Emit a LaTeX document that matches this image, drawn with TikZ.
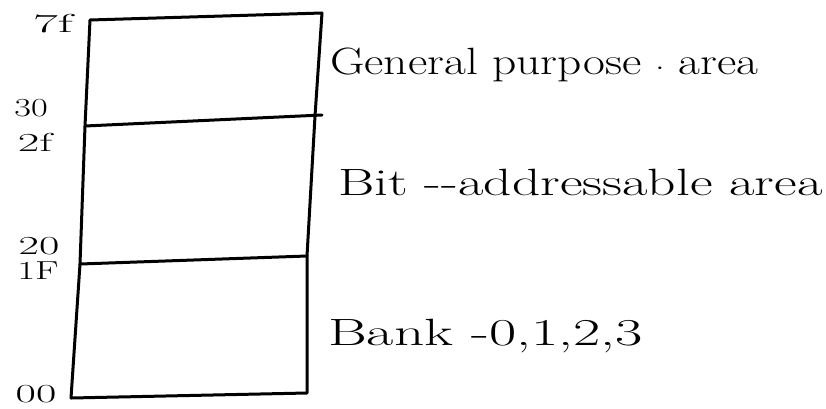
\documentclass[tikz,border=0pt]{standalone}
\usepackage{graphicx}
\begin{document}
\begin{tikzpicture}[x=1pt,y=-1pt,
  wall/.style={line width=3pt,line cap=round,line join=round},
  addr/.style={font=\fontsize{26}{28}\selectfont,inner sep=0pt},
  area/.style={font=\fontsize{38}{40}\selectfont,inner sep=0pt,anchor=base west}]
\useasboundingbox (0,0) rectangle (826,408);
% corners of the memory column and the two partitions
\coordinate (tl) at (90,20);
\coordinate (tr) at (322,13);
\coordinate (ml2) at (85,126);
\coordinate (mr2) at (315,116);
\coordinate (mx2) at (322,115);
\coordinate (ml1) at (80,264);
\coordinate (mr1) at (307,256);
\coordinate (bl) at (71,398);
\coordinate (br) at (307,393);
\draw[wall] (tl) -- (tr) -- (mr2) -- (mr1) -- (br) -- (bl) -- (ml1) -- (ml2) -- cycle;
\draw[wall] (ml2) -- (mx2);
\draw[wall] (ml1) -- (mr1);
% address labels
\node[addr] (a7f) at (53,24) {\scalebox{2.1}[1]{7f}};
\node[addr] (a30) at (31,108) {\scalebox{1.4}[1]{30}};
\node[addr] (a2f) at (35,142) {\scalebox{1.8}[1]{2f}};
\node[addr] (a20) at (39,246) {\scalebox{1.7}[1]{20}};
\node[addr] (a1f) at (38,271) {\scalebox{1.5}[1]{1F}};
\node[addr] (a00) at (36,394) {\scalebox{1.7}[1]{00}};
% region names
\node[area] (gp) at (330,74) {\scalebox{1.25}[1]{General purpose $\cdot$ area}};
\node[area] (bit) at (338,195) {\scalebox{1.46}[1]{Bit -{}-addressable area}};
\node[area] (bank) at (328,345) {\scalebox{1.56}[1]{Bank -0,1,2,3}};
\end{tikzpicture}
\end{document}
